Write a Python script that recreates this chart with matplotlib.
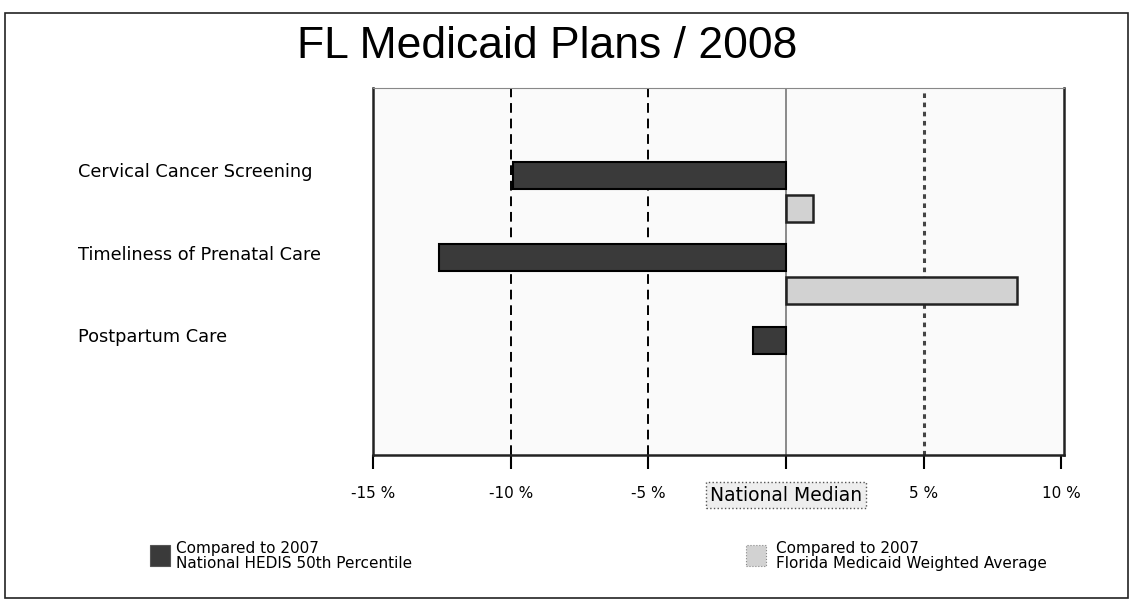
import matplotlib
matplotlib.use("Agg")
import matplotlib.pyplot as plt
from matplotlib.patches import Rectangle
from matplotlib.transforms import blended_transform_factory

categories = ["Cervical Cancer Screening", "Timeliness of Prenatal Care", "Postpartum Care"]
vs_national = [-9.9, -12.6, -1.2]      # Compared to 2007 National HEDIS 50th Percentile
vs_florida = [1.0, 8.4, None]          # Compared to 2007 Florida Medicaid Weighted Average
tick_values = [-15, -10, -5, 0, 5, 10]
tick_labels = ["-15 %", "-10 %", "-5 %", "National Median", "5 %", "10 %"]
legend_labels = ["Compared to 2007\nNational HEDIS 50th Percentile",
                 "Compared to 2007\nFlorida Medicaid Weighted Average"]
title = "FL Medicaid Plans / 2008"

dark = "#3a3a3a"
light = "#d2d2d2"
lab_font = ["DejaVu Sans"]

fig = plt.figure(figsize=(11.34, 6.07), dpi=100)
fig.patch.set_facecolor("white")

# outer frame
fig.add_artist(Rectangle((5/1134, 1-598/607), 1123/1134, 585/607, transform=fig.transFigure,
                         fill=False, edgecolor="#222222", linewidth=1.2))

ax = fig.add_axes([373/1134, 1-455/607, (1064-373)/1134, (455-88)/607])
ax.set_facecolor("#fafafa")

bh = 0.33
off = 0.4
for i, (v1, v2) in enumerate(zip(vs_national, vs_florida)):
    ax.barh(i, v1, height=bh, color=dark, edgecolor="black", linewidth=1.5, zorder=3)
    if v2 is not None:
        ax.barh(i + off, v2, height=bh, color=light, edgecolor="#222222", linewidth=1.8, zorder=3)

ax.set_xlim(-15, 10.1)
ax.set_ylim(3.39, -1.06)

ax.axvline(-10, color="black", linestyle=(0, (5, 3)), linewidth=1.4, zorder=2)
ax.axvline(-5, color="black", linestyle=(0, (5, 3)), linewidth=1.4, zorder=2)
ax.axvline(0, color="#777777", linewidth=1.2, zorder=2)
ax.axvline(5, color="#444444", linestyle=(0, (1.5, 1.5)), linewidth=2.2, zorder=2)

ax.set_yticks(range(len(categories)))
ax.set_yticklabels([])
ax.tick_params(axis="y", length=0)
trans = blended_transform_factory(fig.transFigure, ax.transData)
for i, c in enumerate(categories):
    fig.text(78/1134, i - 0.04, c, transform=trans, fontsize=12.8, family=lab_font,
             ha="left", va="center")

ax.set_xticks(tick_values)
ax.set_xticklabels(tick_labels, fontsize=11, family=lab_font)
ax.tick_params(axis="x", length=10, width=1.5, direction="out", pad=12)
for t in ax.get_xticklabels():
    if t.get_text() == "National Median":
        t.set_fontsize(13.5)
        t.set_bbox(dict(boxstyle="square,pad=0.2", facecolor="#eeeeee",
                        edgecolor="#555555", linestyle=":", linewidth=1))

for s in ["left", "bottom", "right"]:
    ax.spines[s].set_linewidth(1.8)
    ax.spines[s].set_color("#222222")
ax.spines["top"].set_linewidth(0.8)
ax.spines["top"].set_color("#888888")

fig.text(547/1134, 1-46/607, title, fontsize=32, family=["Liberation Sans"],
         ha="center", va="center")

# legend
fig.add_artist(Rectangle((150/1134, 1-566/607), 20/1134, 21/607, transform=fig.transFigure,
                         facecolor=dark, edgecolor="#555555", linewidth=0.8))
fig.text(176/1134, 1-556/607, legend_labels[0], fontsize=11, family=lab_font,
         ha="left", va="center", linespacing=1.0)
fig.add_artist(Rectangle((746/1134, 1-566/607), 20/1134, 21/607, transform=fig.transFigure,
                         facecolor=light, edgecolor="#888888", linewidth=0.8, linestyle=":"))
fig.text(776/1134, 1-556/607, legend_labels[1], fontsize=11, family=lab_font,
         ha="left", va="center", linespacing=1.0)

fig.savefig("out.png", dpi=100)
